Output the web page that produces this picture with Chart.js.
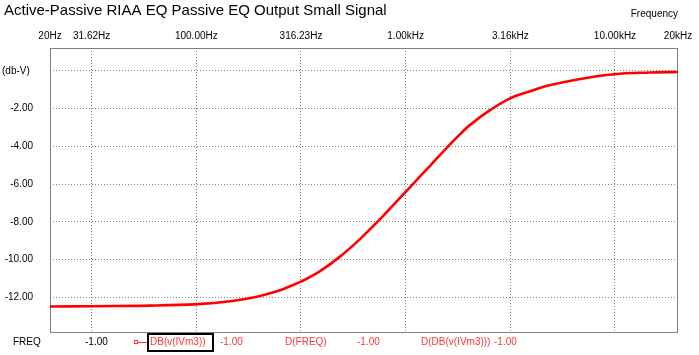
<!DOCTYPE html>
<html>
<head>
<meta charset="utf-8">
<script src="https://cdn.jsdelivr.net/npm/chart.js@4.4.1/dist/chart.umd.min.js"></script>
<style>
  html, body { margin: 0; padding: 0; background: #fff; }
  canvas { display: block; }
</style>
</head>
<body>
<canvas id="c" width="699" height="355"></canvas>
<script>
// ---- data ----
const freqHz = [20, 31.6, 60, 102, 145, 195, 251, 280, 320, 390, 486, 605, 738, 843, 1016, 1172, 1308, 1595, 1820, 2031, 2530, 3154, 3930, 4690, 6810, 9900, 14700, 20000];
const dbV    = [-12.50, -12.48, -12.45, -12.37, -12.22, -11.98, -11.64, -11.42, -11.15, -10.62, -9.85, -8.92, -7.97, -7.29, -6.33, -5.59, -5.03, -4.00, -3.35, -2.86, -2.08, -1.45, -1.08, -0.80, -0.42, -0.17, -0.08, -0.05];
const xTickValues = [20, 31.62, 100, 316.23, 1000, 3162.3, 10000, 20000];
const xTickLabels = ['20Hz', '31.62Hz', '100.00Hz', '316.23Hz', '1.00kHz', '3.16kHz', '10.00kHz', '20kHz'];
const yTickValues = [0, -2, -4, -6, -8, -10, -12];
const yTickLabels = ['(db-V)', '-2.00', '-4.00', '-6.00', '-8.00', '-10.00', '-12.00'];
const titleText = 'Active-Passive RIAA EQ Passive EQ Output Small Signal';
const xAxisTitle = 'Frequency';
const readoutTexts = ['FREQ', '-1.00', 'DB(v(IVm3))', '-1.00', 'D(FREQ)', '-1.00', 'D(DB(v(IVm3)))', '-1.00'];

const FONT = '"Liberation Sans", Arial, sans-serif';
const RED = '#ff0000';
const TEXT_RED = '#ff3535';
const GRID = '#808080';

const points = freqHz.map((f, i) => ({ x: f, y: dbV[i] }));

const decorPlugin = {
  id: 'decor',
  beforeDatasetsDraw(chart) {
    const ctx = chart.ctx, a = chart.chartArea;
    ctx.save();
    ctx.strokeStyle = GRID;
    ctx.lineWidth = 1;
    ctx.strokeRect(Math.round(a.left) + 0.5, Math.round(a.top) + 0.5,
                   Math.round(a.right - a.left) - 1, Math.round(a.bottom - a.top));
    ctx.restore();
  },
  afterDraw(chart) {
    const ctx = chart.ctx, a = chart.chartArea;
    const ys = chart.scales.y;
    ctx.save();
    // title
    ctx.fillStyle = '#000';
    ctx.textBaseline = 'alphabetic';
    ctx.textAlign = 'left';
    ctx.font = '15px ' + FONT;
    ctx.fillText(titleText, 4, 15);
    // axis title
    ctx.font = '10px ' + FONT;
    ctx.textAlign = 'right';
    ctx.fillText(xAxisTitle, a.right, 17);
    // y unit label at 0 line
    ctx.textAlign = 'left';
    ctx.textBaseline = 'middle';
    ctx.fillText(yTickLabels[0], 2, ys.getPixelForValue(yTickValues[0]));
    // readout row
    const y = 342;
    const xs = [13, 85, 150, 220, 285, 357, 421, 494];
    ctx.font = '10px ' + FONT;
    readoutTexts.forEach((t, i) => {
      ctx.fillStyle = i < 2 ? '#000' : TEXT_RED;
      ctx.fillText(t, xs[i], y);
    });
    // marker
    ctx.strokeStyle = TEXT_RED;
    ctx.lineWidth = 1;
    ctx.strokeRect(134.5, 340.5, 3, 3);
    ctx.beginPath();
    ctx.moveTo(138, 342.5);
    ctx.lineTo(148, 342.5);
    ctx.stroke();
    // selection box
    ctx.strokeStyle = '#000';
    ctx.lineWidth = 2;
    ctx.strokeRect(148, 334, 65, 17);
    ctx.restore();
  }
};

new Chart(document.getElementById('c'), {
  type: 'line',
  data: {
    datasets: [{
      data: points,
      borderColor: RED,
      borderWidth: 2.6,
      pointRadius: 0,
      fill: false,
      tension: 0.4
    }]
  },
  options: {
    responsive: false,
    animation: false,
    devicePixelRatio: 1,
    layout: { padding: { top: 0, left: 0, right: 21, bottom: 22 } },
    plugins: { legend: { display: false }, tooltip: { enabled: false }, title: { display: false } },
    scales: {
      x: {
        type: 'logarithmic',
        position: 'top',
        min: 20,
        max: 20000,
        afterBuildTicks(scale) { scale.ticks = xTickValues.map(v => ({ value: v })); },
        afterFit(scale) { scale.height = 48; },
        ticks: {
          autoSkip: false,
          maxRotation: 0,
          padding: 6,
          color: '#000',
          font: { family: FONT, size: 10 },
          callback: (v, i) => xTickLabels[i]
        },
        grid: {
          drawTicks: false,
          lineWidth: 1,
          color: c => (c.index === 0 || c.index === xTickValues.length - 1) ? 'rgba(0,0,0,0)' : GRID
        },
        border: { display: false, dash: [1, 2] }
      },
      y: {
        type: 'linear',
        min: -13.85,
        max: 1.22,
        afterBuildTicks(scale) { scale.ticks = yTickValues.map(v => ({ value: v })); },
        afterFit(scale) { scale.width = 50; },
        ticks: {
          padding: 17,
          color: '#000',
          font: { family: FONT, size: 10 },
          callback: (v, i) => i === 0 ? '' : yTickLabels[i]
        },
        grid: { drawTicks: false, lineWidth: 1, color: GRID },
        border: { display: false, dash: [1, 2] }
      }
    }
  },
  plugins: [decorPlugin]
});
</script>
</body>
</html>
